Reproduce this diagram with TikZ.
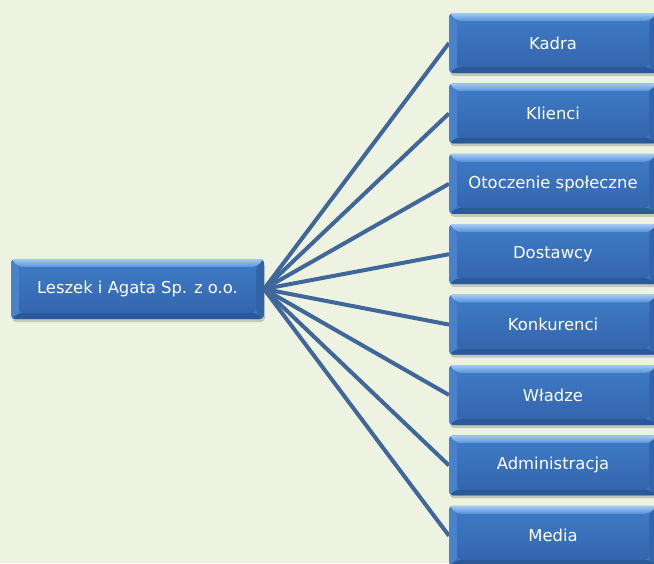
\documentclass[tikz,border=0pt]{standalone}
\usepackage{fontspec}
\setmainfont{DejaVu Sans}
\usetikzlibrary{shadows}
\definecolor{bgc}{HTML}{EEF3E1}
\definecolor{linec}{HTML}{3F6799}
\definecolor{facetop}{HTML}{3D79C3}
\definecolor{facebot}{HTML}{3466AE}
\definecolor{bevtopc}{HTML}{A3CAF5}
\definecolor{bevtopd}{HTML}{5890D8}
\definecolor{bevleft}{HTML}{4982CA}
\definecolor{bevright}{HTML}{3264A8}
\definecolor{bevbot}{HTML}{2B5896}
\tikzset{
  bevbox/.style={rounded corners=4pt, inner sep=0pt, text=white,
    font=\fontsize{16.4}{19}\selectfont,
    fill=facetop,
    drop shadow={shadow xshift=1pt, shadow yshift=-3pt, opacity=0.3, fill=black!60},
    path picture={
      \fill[bevleft] (path picture bounding box.north west) -- ([xshift=8pt,yshift=-8pt]path picture bounding box.north west) -- ([xshift=8pt,yshift=6pt]path picture bounding box.south west) -- (path picture bounding box.south west) -- cycle;
      \fill[bevright] (path picture bounding box.north east) -- ([xshift=-8pt,yshift=-8pt]path picture bounding box.north east) -- ([xshift=-8pt,yshift=6pt]path picture bounding box.south east) -- (path picture bounding box.south east) -- cycle;
      \fill[bevbot] (path picture bounding box.south west) -- ([xshift=8pt,yshift=6pt]path picture bounding box.south west) -- ([xshift=-8pt,yshift=6pt]path picture bounding box.south east) -- (path picture bounding box.south east) -- cycle;
      \shade[top color=bevtopc, bottom color=bevtopd] (path picture bounding box.north west) -- (path picture bounding box.north east) -- ([xshift=-8pt,yshift=-8pt]path picture bounding box.north east) -- ([xshift=8pt,yshift=-8pt]path picture bounding box.north west) -- cycle;
      \shade[top color=facetop, bottom color=facebot] ([xshift=8pt,yshift=-8pt]path picture bounding box.north west) rectangle ([xshift=-8pt,yshift=6pt]path picture bounding box.south east);
    }},
  rightbox/.style={bevbox, minimum width=208pt, minimum height=60pt},
  conn/.style={linec, line width=4pt}
}
\begin{document}
\begin{tikzpicture}[x=1pt,y=-1pt]
\fill[bgc] (0,0) rectangle (654,563);
\useasboundingbox (0,0) rectangle (654,563);
\coordinate (hub) at (264,289);
\foreach \i in {0,...,7}{
  \coordinate (in\i) at (449,{43+70.4*\i});
  \draw[conn] (hub) -- (in\i);
}
\node[bevbox, minimum width=253pt, minimum height=60pt] (main) at (137.5,289) {Leszek i Agata Sp. z o.o.};
\foreach \i/\t in {0/Kadra,1/Klienci,2/Otoczenie społeczne,3/Dostawcy,4/Konkurenci,5/Władze,6/Administracja,7/Media}{
  \node[rightbox] (b\i) at (553,{43+70.4*\i}) {\t};
}
\end{tikzpicture}
\end{document}
